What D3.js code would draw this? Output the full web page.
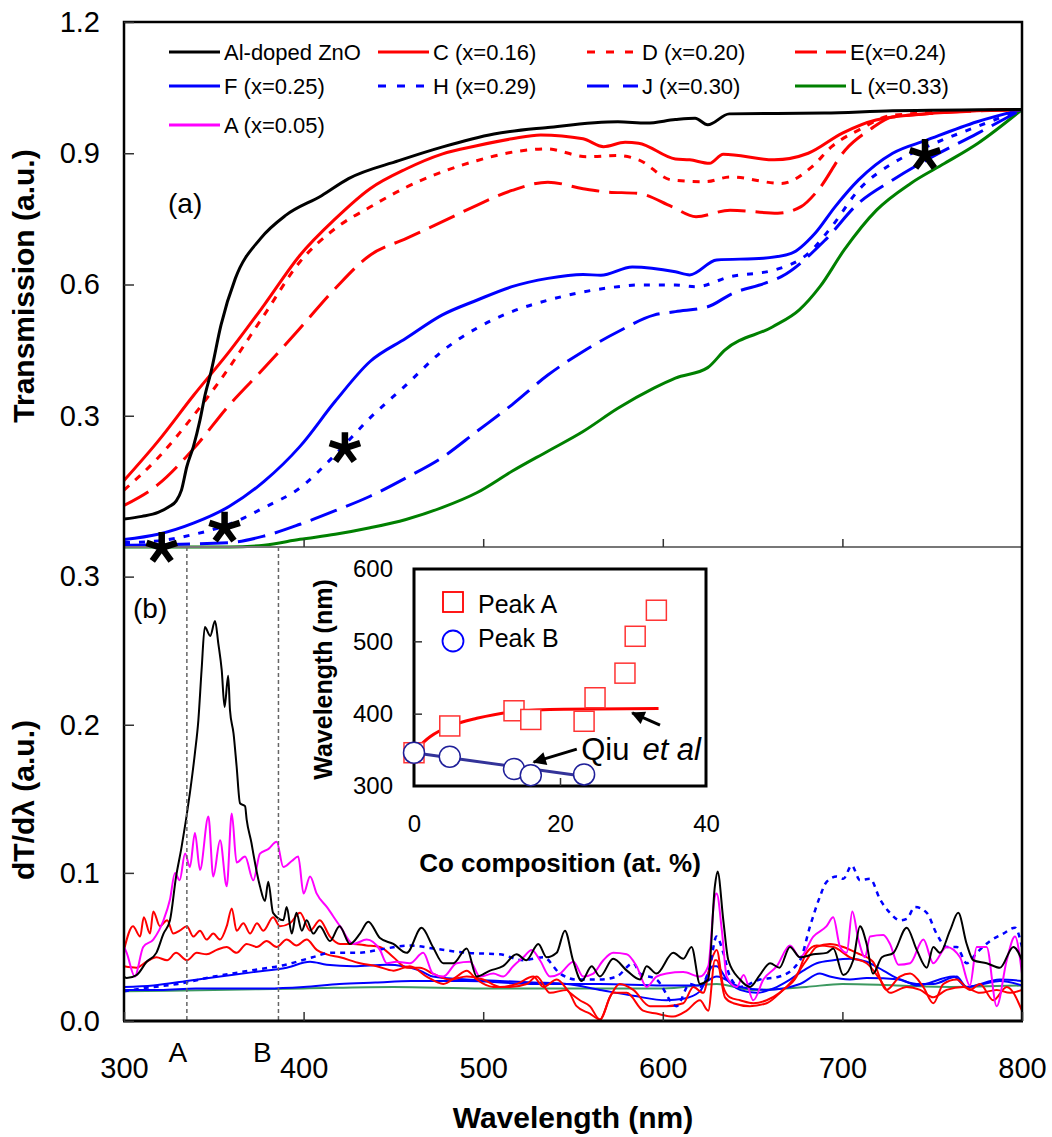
<!DOCTYPE html>
<html>
<head>
<meta charset="utf-8">
<script src="https://d3js.org/d3.v7.min.js"></script>
<style>
  body { margin: 0; background: #fff; }
  text { font-family: "Liberation Sans", Arial, sans-serif; fill: #000; }
  .ttl { font-weight: 700; }
</style>
</head>
<body>
<div id="chart"></div>
<script>
// ---- panel (a): transmission, [wavelength nm, T]
var tAZO = [[300,0.064],[310,0.07],[319,0.079],[325,0.092],[329,0.105],[332,0.13],[335,0.184],[338.6,0.229],[342.3,0.29],[345,0.345],[348.5,0.401],[354,0.507],[362,0.614],[376,0.705],[390,0.758],[410,0.803],[425,0.842],[453,0.883],[477,0.914],[506,0.944],[536,0.959],[575,0.972],[591,0.969],[607,0.977],[618,0.98],[625,0.965],[637,0.99],[690,0.992],[728,0.997],[800,1.0]];
var tC = [[300,0.152],[319,0.242],[339,0.348],[358.7,0.447],[378,0.553],[398,0.667],[417.6,0.75],[437,0.819],[457,0.864],[477,0.898],[496.4,0.917],[516,0.933],[532,0.942],[555.6,0.933],[567,0.915],[579,0.925],[586.5,0.923],[607,0.887],[615,0.885],[626,0.877],[633.7,0.898],[662,0.885],[681,0.9],[700,0.946],[718.7,0.976],[747,0.99],[800,1.0]];
var tD = [[300,0.13],[319,0.204],[339,0.302],[354.4,0.386],[378,0.53],[398,0.652],[417.6,0.728],[437,0.777],[457,0.822],[477,0.857],[496.4,0.883],[520,0.905],[535,0.91],[557.8,0.892],[575,0.895],[586.5,0.885],[605,0.839],[624,0.835],[637.5,0.846],[666,0.831],[683,0.869],[694,0.915],[709,0.953],[728,0.987],[800,1.0]];
var tE = [[300,0.095],[319,0.143],[339,0.226],[358.7,0.325],[378,0.409],[398,0.5],[417.6,0.591],[437,0.667],[457,0.705],[477,0.743],[496.4,0.781],[516,0.815],[536,0.834],[555.6,0.819],[567.6,0.812],[586.5,0.808],[605,0.778],[618.5,0.755],[637.5,0.77],[664,0.763],[677,0.778],[686.5,0.816],[701.5,0.907],[715,0.953],[728,0.983],[800,1.0]];
var tF = [[300,0.017],[319,0.029],[339,0.055],[358.7,0.093],[378,0.15],[398,0.23],[417.6,0.333],[437,0.424],[457,0.477],[477,0.53],[496.4,0.564],[516,0.595],[536,0.614],[555.6,0.623],[565.5,0.621],[583,0.64],[607,0.629],[615,0.622],[630,0.656],[656,0.66],[671.5,0.671],[684.8,0.717],[696,0.778],[709,0.839],[728,0.9],[747,0.93],[775,0.972],[800,1.0]];
var tH = [[300,0.01],[319,0.014],[339,0.029],[358.7,0.052],[378,0.09],[398,0.135],[417.6,0.211],[437,0.295],[457,0.37],[477,0.447],[496.4,0.5],[516,0.538],[536,0.564],[555.6,0.583],[575,0.595],[586.5,0.599],[607,0.599],[618.5,0.595],[637.5,0.618],[662,0.633],[681,0.671],[694,0.732],[709,0.816],[728,0.877],[747,0.915],[775,0.961],[800,1.0]];
var tJ = [[300,0.004],[358.7,0.01],[378,0.025],[398,0.052],[417.6,0.083],[437,0.116],[457,0.158],[477,0.204],[496.4,0.264],[516,0.325],[536,0.393],[555.6,0.447],[575,0.492],[595,0.53],[607,0.538],[625,0.549],[639,0.58],[657,0.603],[666,0.618],[690,0.7],[709,0.786],[728,0.839],[747,0.885],[775,0.945],[800,1.0]];
var tL = [[300,0.0],[358.7,0.0],[378,0.004],[398,0.0175],[417.6,0.029],[437,0.044],[457,0.063],[477,0.09],[496.4,0.124],[516,0.173],[536,0.219],[555.6,0.264],[575,0.317],[595,0.363],[607,0.386],[625,0.41],[634.5,0.45],[661,0.503],[676,0.542],[687.5,0.595],[701,0.679],[719,0.77],[738,0.831],[757,0.877],[775.5,0.923],[800,1.0]];

// ---- panel (b): dT/dlambda, [wavelength nm, value]
var dAZO = [[300,0.03],[301.5,0.029],[307,0.031],[312.6,0.04],[318,0.046],[322,0.059],[325.6,0.068],[329,0.0975],[332,0.117],[336.7,0.154],[339.5,0.181],[341.4,0.203],[343.2,0.237],[345,0.266],[348,0.26],[350.7,0.27],[352.5,0.255],[354.4,0.237],[356,0.212],[358,0.233],[359,0.21],[361,0.194],[362.7,0.172],[364.6,0.147],[367.4,0.145],[368.3,0.136],[371,0.12],[372,0.113],[375.7,0.091],[378.5,0.081],[380.3,0.094],[383,0.073],[388.7,0.068],[390.6,0.077],[393.4,0.059],[396,0.073],[399,0.061],[401.7,0.068],[405.4,0.059],[409,0.064],[414.7,0.054],[420,0.064],[425.8,0.052],[431.4,0.059],[436,0.067],[442.5,0.056],[450,0.052],[457.4,0.046],[465.7,0.063],[472,0.05],[477.8,0.039],[483.4,0.039],[490.8,0.049],[496.4,0.03],[503.8,0.034],[511,0.037],[518.6,0.045],[524,0.041],[530.7,0.052],[535.3,0.043],[540.9,0.046],[545.5,0.061],[550,0.041],[554.8,0.027],[560.4,0.037],[565,0.03],[572.4,0.042],[580,0.034],[587.3,0.028],[591,0.037],[596.5,0.032],[605.8,0.046],[611.4,0.042],[616,0.05],[620.7,0.025],[625.3,0.028],[629,0.091],[630.5,0.101],[633.7,0.068],[636.5,0.041],[643,0.028],[648.5,0.023],[654,0.031],[659.7,0.039],[665,0.036],[670.8,0.05],[676.4,0.043],[683.8,0.045],[691.2,0.046],[694.9,0.049],[700.5,0.031],[706,0.041],[709.8,0.064],[713.5,0.052],[717,0.032],[722,0.043],[728.4,0.046],[735.8,0.063],[741.4,0.048],[747,0.036],[750.6,0.05],[754.3,0.046],[759.9,0.061],[764.5,0.073],[769.2,0.052],[772.9,0.041],[780.3,0.039],[787.7,0.036],[795.2,0.05],[800,0.041]];
var dA = [[300,0.05],[301.5,0.046],[306,0.03],[310.7,0.05],[316.3,0.055],[322,0.068],[325.6,0.082],[328.4,0.1],[331,0.095],[334,0.113],[336.7,0.104],[339.5,0.127],[342.3,0.102],[347,0.138],[349.7,0.0975],[353.5,0.122],[357.2,0.091],[360,0.14],[362.7,0.107],[367.4,0.111],[372,0.095],[375.7,0.113],[380.3,0.116],[385,0.121],[388.7,0.104],[393.4,0.108],[397,0.111],[400,0.086],[403.6,0.0975],[407.3,0.086],[412.9,0.077],[420.3,0.064],[427.7,0.052],[435.1,0.055],[442.5,0.048],[446.3,0.039],[451.8,0.04],[459.2,0.039],[466.6,0.046],[472,0.032],[477.8,0.03],[485.2,0.039],[492.7,0.04],[498.2,0.03],[505.6,0.032],[511.2,0.03],[516.7,0.037],[522.3,0.043],[527,0.048],[531.6,0.041],[537.2,0.03],[542.8,0.032],[550.2,0.04],[555.7,0.03],[561.3,0.032],[566.9,0.041],[572.4,0.046],[579.9,0.045],[585.4,0.037],[591,0.023],[596.5,0.03],[602.1,0.032],[611.4,0.033],[620.7,0.03],[625.3,0.037],[629,0.084],[630,0.086],[632.9,0.061],[635.6,0.03],[641.2,0.023],[645,0.031],[650.4,0.014],[656,0.028],[663.5,0.037],[670.8,0.051],[676.4,0.043],[683.8,0.057],[691.2,0.064],[694.9,0.07],[698.7,0.05],[702.4,0.046],[705.5,0.074],[708.9,0.055],[712.6,0.043],[715.4,0.057],[722.8,0.058],[726.5,0.052],[731.2,0.038],[737.7,0.039],[745.1,0.055],[750.6,0.039],[758,0.05],[765.5,0.043],[771,0.024],[774.8,0.05],[780.3,0.05],[785.9,0.01],[791.5,0.041],[796.1,0.057],[800,0.032]];
var dC = [[300,0.048],[305,0.064],[309,0.057],[311,0.07],[314.5,0.059],[316.3,0.074],[320,0.064],[324,0.068],[327.5,0.059],[331,0.061],[335,0.064],[338.6,0.057],[342.3,0.061],[346,0.055],[349.7,0.059],[353.5,0.055],[357.2,0.064],[360,0.076],[362.7,0.061],[366.5,0.066],[370.2,0.059],[374,0.066],[377.6,0.061],[383,0.07],[386.8,0.064],[392.4,0.066],[398,0.073],[403.6,0.061],[409,0.068],[414.7,0.057],[420.3,0.052],[427.7,0.052],[435,0.051],[442.5,0.05],[450,0.043],[457.4,0.036],[464.8,0.036],[472,0.032],[481.5,0.028],[490.8,0.03],[500,0.028],[509.3,0.023],[518.6,0.025],[527.9,0.03],[533.5,0.023],[541,0.028],[548.3,0.019],[553.8,0.014],[559.4,0.01],[565,0.001],[570.5,0.016],[576,0.025],[583.6,0.021],[592.8,0.01],[602,0.01],[611.4,0.012],[617,0.023],[622.5,0.019],[627,0.041],[630,0.048],[633.7,0.023],[637.4,0.016],[643,0.014],[650.4,0.012],[657.8,0.014],[665,0.019],[672.6,0.028],[680,0.041],[685.7,0.05],[693,0.052],[700.5,0.05],[707.9,0.046],[717,0.04],[724.6,0.021],[732,0.03],[737.7,0.032],[745,0.023],[750.6,0.012],[756.2,0.025],[763.6,0.028],[771,0.021],[776.6,0.025],[784,0.014],[791.5,0.023],[800,0.007]];
var dD = [[300,0.037],[307,0.036],[312.6,0.04],[318,0.043],[324,0.041],[329,0.046],[335,0.041],[340.5,0.046],[346,0.045],[351.6,0.048],[357.2,0.05],[362.7,0.046],[368.3,0.052],[374,0.05],[379.4,0.054],[385,0.05],[390.6,0.055],[396,0.051],[401.7,0.055],[407.3,0.048],[412.9,0.045],[420.3,0.043],[431.4,0.039],[440.7,0.037],[450,0.034],[459.2,0.037],[468.5,0.03],[477.8,0.025],[485.2,0.03],[490.8,0.034],[496.4,0.028],[505.6,0.023],[514.9,0.023],[524.2,0.025],[529.8,0.03],[537.2,0.019],[546.5,0.021],[552,0.01],[559.4,0.005],[565,0.001],[572.4,0.019],[579.9,0.019],[589,0.007],[596.5,0.005],[605.8,0.003],[613.3,0.007],[620.7,0.014],[625.3,0.007],[629,0.041],[630,0.041],[634.6,0.016],[639.3,0.012],[648.5,0.01],[657.8,0.012],[667,0.021],[674.5,0.03],[680,0.046],[685.7,0.051],[694.9,0.05],[704.2,0.043],[713.5,0.039],[721,0.028],[726.5,0.019],[735.8,0.023],[743.3,0.021],[750.6,0.016],[758,0.021],[767.3,0.023],[776.6,0.019],[785.9,0.021],[793.3,0.019],[800,0.021]];
var dF = [[300,0.023],[316.3,0.024],[335,0.027],[353.5,0.03],[372,0.033],[390.6,0.036],[403.6,0.04],[412.9,0.038],[427.7,0.037],[446.3,0.038],[464.8,0.034],[472,0.03],[490.8,0.028],[509.3,0.027],[527.9,0.026],[546.5,0.025],[565,0.021],[583.6,0.017],[602,0.014],[611.4,0.015],[620.7,0.02],[628,0.037],[630,0.037],[635.6,0.028],[643,0.021],[652.3,0.019],[661.6,0.022],[670.8,0.028],[678.2,0.034],[685.7,0.039],[694.9,0.041],[704.2,0.042],[713.5,0.04],[722.8,0.034],[732,0.028],[741.4,0.025],[750.6,0.025],[763.6,0.03],[769.2,0.023],[778.5,0.025],[787.7,0.027],[800,0.024]];
var dH = [[300,0.02],[310,0.022],[330,0.025],[350,0.03],[370,0.034],[390,0.038],[405,0.043],[415,0.046],[430,0.046],[446,0.049],[459.2,0.051],[472,0.049],[490.8,0.046],[509.3,0.045],[522.3,0.041],[533.5,0.043],[542.8,0.032],[552,0.028],[565,0.028],[574.3,0.03],[583.6,0.039],[587.3,0.032],[596.5,0.028],[607.7,0.01],[615,0.025],[620.7,0.023],[626.2,0.037],[629.9,0.057],[633.7,0.046],[637.4,0.03],[643,0.023],[654,0.028],[665,0.03],[676.4,0.041],[682,0.064],[687.5,0.084],[691.2,0.094],[696.8,0.0975],[700.5,0.096],[705.2,0.105],[709.8,0.095],[715.4,0.096],[721,0.082],[726.5,0.073],[732,0.068],[735.8,0.069],[740.5,0.077],[747,0.073],[752.4,0.059],[758,0.05],[763.6,0.05],[769.2,0.039],[774.8,0.046],[782.2,0.054],[789.6,0.059],[796.1,0.063],[800,0.05]];
var dJ = [[300,0.021],[320,0.021],[340,0.022],[360,0.022],[380,0.022],[400,0.023],[420,0.025],[440,0.026],[460,0.027],[490,0.027],[530,0.025],[565,0.025],[600,0.024],[620,0.024],[630,0.03],[643,0.023],[657.8,0.021],[676.4,0.025],[687.5,0.032],[693,0.03],[704.2,0.028],[713.5,0.029],[732,0.028],[741.4,0.024],[761.8,0.03],[769.2,0.023],[787.7,0.028],[800,0.027]];
var dL = [[300,0.02],[350,0.021],[400,0.022],[450,0.023],[500,0.022],[550,0.022],[600,0.022],[630,0.025],[650,0.021],[680,0.023],[700,0.025],[730,0.024],[760,0.023],[800,0.024]];

// ---- legend
var legendNames = ["Al-doped ZnO","C (x=0.16)","D (x=0.20)","E(x=0.24)","F (x=0.25)","H (x=0.29)","J (x=0.30)","L (x=0.33)","A (x=0.05)"];
var legendColors = ["#000000","#ff0000","#ff0000","#ff0000","#0000ff","#0000ff","#0000ff","#008000","#ff00ff"];
var legendDash = [null,null,"8,11","22,9",null,"8,11","22,14",null,null];

// ---- annotations
var starPts = [[321,-0.002],[356,0.044],[423,0.226],[746,0.896]];
var peakLines = [335, 386];
var peakNames = ["A", "B"];
var peakLabelX = [330, 377];

// ---- inset: peak wavelength vs Co composition
var peakAx = [0, 4.9, 13.7, 16.0, 23.3, 24.8, 28.9, 30.3, 33.2];
var peakAy = [346, 383, 404, 392, 389.5, 422, 456, 507, 543];
var peakBx = [0, 4.9, 13.7, 16.0, 23.3];
var peakBy = [346, 340.5, 323.5, 315, 316];
var qiuA = [[0,348],[2.2,368],[5,383],[8.6,393.6],[13.7,402.7],[20.5,406],[33.5,407]];
var qiuB = [[0,346],[23.5,313]];
var arrows = [[[33.7,384],[29.9,401]], [[22.3,351],[16.4,333]]];
var qiuPos = [22.9, 336];

var W = 1052, H = 1137;
var svg = d3.select('#chart').append('svg').attr('width', W).attr('height', H);
svg.append('rect').attr('width', W).attr('height', H).attr('fill', '#fff');

var x = d3.scaleLinear().domain([300, 800]).range([124, 1022]);
var yTop = d3.scaleLinear().domain([0, 1.2]).range([547, 22]);
var yBot = d3.scaleLinear().domain([0, 0.32]).range([1021, 547]);
var xIn = d3.scaleLinear().domain([0, 40]).range([414, 706]);
var yIn = d3.scaleLinear().domain([300, 600]).range([786, 569]);

var defs = svg.append('defs');
defs.append('clipPath').attr('id', 'clipTop').append('rect')
  .attr('x', x(300)).attr('y', yTop(1.2)).attr('width', x(800) - x(300)).attr('height', yTop(0) - yTop(1.2) + 2);
defs.append('clipPath').attr('id', 'clipBot').append('rect')
  .attr('x', x(300)).attr('y', yBot(0.32)).attr('width', x(800) - x(300)).attr('height', yBot(0) - yBot(0.32));
defs.append('marker').attr('id', 'arrow').attr('viewBox', '0 0 10 10')
  .attr('refX', 9).attr('refY', 5).attr('markerWidth', 5).attr('markerHeight', 4.5)
  .attr('orient', 'auto').append('path').attr('d', 'M0,0L10,5L0,10z').attr('fill', '#000');

function styleAxis(g, size) {
  g.select('.domain').remove();
  g.selectAll('.tick line').attr('stroke', '#333').attr('stroke-width', 1.5);
  g.selectAll('.tick text').style('font-size', size + 'px').style('font-family', '"Liberation Sans", Arial, sans-serif').attr('fill', '#000');
}

// ---- panel (a) curves
var lineTop = d3.line().curve(d3.curveMonotoneX)
  .x(function(d){ return x(d[0]); }).y(function(d){ return yTop(d[1]); });
var topSeries = [
  {data: tL, color: '#008000', dash: null},
  {data: tJ, color: '#0000ff', dash: '28,10'},
  {data: tH, color: '#0000ff', dash: '6,9'},
  {data: tF, color: '#0000ff', dash: null},
  {data: tE, color: '#ff0000', dash: '28,10'},
  {data: tD, color: '#ff0000', dash: '7,8'},
  {data: tC, color: '#ff0000', dash: null},
  {data: tAZO, color: '#000000', dash: null}
];
var gTop = svg.append('g').attr('clip-path', 'url(#clipTop)');
topSeries.forEach(function(s){
  gTop.append('path').attr('d', lineTop(s.data)).attr('fill', 'none')
    .attr('stroke', s.color).attr('stroke-width', 3).attr('stroke-dasharray', s.dash);
});

// ---- panel (b) curves
var lineBot = d3.line().curve(d3.curveMonotoneX)
  .x(function(d){ return x(d[0]); }).y(function(d){ return yBot(d[1]); });
var botSeries = [
  {data: dL, color: '#3d9960', dash: null},
  {data: dJ, color: '#0000ff', dash: null},
  {data: dF, color: '#0000ff', dash: null},
  {data: dD, color: '#ff0000', dash: null},
  {data: dC, color: '#ff0000', dash: null},
  {data: dH, color: '#0000ff', dash: '5,5'},
  {data: dA, color: '#ff00ff', dash: null},
  {data: dAZO, color: '#000000', dash: null}
];
var gBot = svg.append('g').attr('clip-path', 'url(#clipBot)');
botSeries.forEach(function(s){
  gBot.append('path').attr('d', lineBot(s.data)).attr('fill', 'none')
    .attr('stroke', s.color).attr('stroke-width', s.dash ? 2.5 : 2).attr('stroke-dasharray', s.dash)
    .attr('stroke-linejoin', 'round');
});

// peak A / B markers
peakLines.forEach(function(v, i){
  svg.append('line').attr('x1', x(v)).attr('x2', x(v)).attr('y1', yBot(0.32)).attr('y2', yBot(0))
    .attr('stroke', '#666').attr('stroke-width', 1.5).attr('stroke-dasharray', '4,3');
  svg.append('text').attr('x', x(peakLabelX[i])).attr('y', 1062).attr('text-anchor', 'middle')
    .style('font-size', '28px').text(peakNames[i]);
});

// ---- frame
svg.append('line').attr('x1', x(300)).attr('x2', x(800)).attr('y1', yTop(0)).attr('y2', yTop(0)).attr('stroke', '#777').attr('stroke-width', 2);
svg.append('path').attr('d', 'M' + x(300) + ',' + yBot(0) + 'V' + yTop(1.2) + 'H' + x(800) + 'V' + yBot(0))
  .attr('fill', 'none').attr('stroke', '#000').attr('stroke-width', 2.5);
svg.append('line').attr('x1', x(300) - 1).attr('x2', x(800) + 1).attr('y1', yBot(0)).attr('y2', yBot(0)).attr('stroke', '#000').attr('stroke-width', 3);

// ---- axes
var ayTop = svg.append('g').attr('transform', 'translate(' + x(300) + ',0)')
  .call(d3.axisLeft(yTop).tickValues([0.3, 0.6, 0.9, 1.2]).tickFormat(d3.format('.1f')).tickSizeInner(-10).tickSizeOuter(0).tickPadding(24));
styleAxis(ayTop, 29);
var ayBot = svg.append('g').attr('transform', 'translate(' + x(300) + ',0)')
  .call(d3.axisLeft(yBot).tickValues([0, 0.1, 0.2, 0.3]).tickFormat(d3.format('.1f')).tickSizeInner(-10).tickSizeOuter(0).tickPadding(24));
styleAxis(ayBot, 29);
var axBot = svg.append('g').attr('transform', 'translate(0,' + yBot(0) + ')')
  .call(d3.axisBottom(x).tickValues([300, 400, 500, 600, 700, 800]).tickSizeInner(-9).tickSizeOuter(0).tickPadding(36));
styleAxis(axBot, 29);
var axTop = svg.append('g').attr('transform', 'translate(0,' + yTop(0) + ')')
  .call(d3.axisBottom(x).tickValues([400, 500, 600, 700]).tickFormat('').tickSizeInner(-8).tickSizeOuter(0));
styleAxis(axTop, 29);

svg.append('text').attr('class', 'ttl').attr('transform', 'translate(34,286) rotate(-90)')
  .attr('text-anchor', 'middle').style('font-size', '30px').text('Transmission (a.u.)');
svg.append('text').attr('class', 'ttl').attr('transform', 'translate(34,800) rotate(-90)')
  .attr('text-anchor', 'middle').style('font-size', '30px').text('dT/dλ (a.u.)');
svg.append('text').attr('class', 'ttl').attr('x', (x(300) + x(800)) / 2).attr('y', 1128)
  .attr('text-anchor', 'middle').style('font-size', '30px').text('Wavelength (nm)');

svg.append('text').attr('x', 168).attr('y', 213).style('font-size', '28px').text('(a)');
svg.append('text').attr('x', 133).attr('y', 618).style('font-size', '28px').text('(b)');

// ---- asterisks
var armAngles = [-90, -18, 54, 126, 198];
starPts.forEach(function(p){
  var cx = x(p[0]), cy = yTop(p[1]);
  var d = armAngles.map(function(a){
    var r = a * Math.PI / 180;
    return 'M' + cx + ',' + cy + 'L' + (cx + 16 * Math.cos(r)) + ',' + (cy + 16 * Math.sin(r));
  }).join('');
  svg.append('path').attr('d', d).attr('stroke', '#000').attr('stroke-width', 6.5).attr('fill', 'none');
});

// ---- main legend
var colX = [169, 378, 587, 795], rowY = [52, 86, 125];
legendNames.forEach(function(n, i){
  var lx = colX[i % 4], ly = rowY[Math.floor(i / 4)];
  svg.append('line').attr('x1', lx).attr('x2', lx + 51).attr('y1', ly).attr('y2', ly)
    .attr('stroke', legendColors[i]).attr('stroke-width', 3).attr('stroke-dasharray', legendDash[i]);
  svg.append('text').attr('x', lx + 55).attr('y', ly).attr('dy', '0.36em').style('font-size', '22px').text(n);
});

// ---- inset
svg.append('rect').attr('x', xIn(0)).attr('y', yIn(600)).attr('width', xIn(40) - xIn(0)).attr('height', yIn(300) - yIn(600))
  .attr('fill', '#fff').attr('stroke', '#000').attr('stroke-width', 3);
var ayIn = svg.append('g').attr('transform', 'translate(' + xIn(0) + ',0)')
  .call(d3.axisLeft(yIn).tickValues([300, 400, 500, 600]).tickSizeInner(-8).tickSizeOuter(0).tickPadding(21));
styleAxis(ayIn, 24);
var axIn = svg.append('g').attr('transform', 'translate(0,' + yIn(300) + ')')
  .call(d3.axisBottom(xIn).tickValues([0, 20, 40]).tickSizeInner(-8).tickSizeOuter(0).tickPadding(29));
styleAxis(axIn, 24);
axIn.selectAll('.tick line').filter(function(d){ return d !== 20; }).remove();
ayIn.selectAll('.tick line').filter(function(d){ return d === 300 || d === 600; }).remove();

svg.append('text').attr('class', 'ttl').attr('transform', 'translate(332,' + ((yIn(300) + yIn(600)) / 2 + 2) + ') rotate(-90)')
  .attr('text-anchor', 'middle').style('font-size', '25px').text('Wavelength (nm)');
svg.append('text').attr('class', 'ttl').attr('x', (xIn(0) + xIn(40)) / 2).attr('y', 872)
  .attr('text-anchor', 'middle').style('font-size', '26px').text('Co composition (at. %)');

var lineIn = d3.line().x(function(d){ return xIn(d[0]); }).y(function(d){ return yIn(d[1]); });
svg.append('path').attr('d', lineIn.curve(d3.curveMonotoneX)(qiuA)).attr('fill', 'none').attr('stroke', '#ff0000').attr('stroke-width', 3);
svg.append('path').attr('d', lineIn.curve(d3.curveLinear)(qiuB)).attr('fill', 'none').attr('stroke', '#333399').attr('stroke-width', 3);

peakAx.forEach(function(v, i){
  svg.append('rect').attr('x', xIn(v) - 10).attr('y', yIn(peakAy[i]) - 10).attr('width', 20).attr('height', 20)
    .attr('fill', '#fff').attr('stroke', '#ff3333').attr('stroke-width', 1.5);
});
peakBx.forEach(function(v, i){
  svg.append('circle').attr('cx', xIn(v)).attr('cy', yIn(peakBy[i])).attr('r', 10.5)
    .attr('fill', '#fff').attr('stroke', '#1f1f99').attr('stroke-width', 1.5);
});

arrows.forEach(function(a){
  svg.append('line').attr('x1', xIn(a[0][0])).attr('y1', yIn(a[0][1])).attr('x2', xIn(a[1][0])).attr('y2', yIn(a[1][1]))
    .attr('stroke', '#000').attr('stroke-width', 3).attr('marker-end', 'url(#arrow)');
});
var qiu = svg.append('text').attr('x', xIn(qiuPos[0])).attr('y', yIn(qiuPos[1])).style('font-size', '31px');
qiu.append('tspan').text('Qiu');
qiu.append('tspan').attr('dx', 13).style('font-style', 'italic').text('et al');

// inset legend
svg.append('rect').attr('x', 443).attr('y', 592).attr('width', 20).attr('height', 20)
  .attr('fill', '#fff').attr('stroke', '#ff0000').attr('stroke-width', 1.8);
svg.append('text').attr('x', 478).attr('y', 613).style('font-size', '25px').text('Peak A');
svg.append('circle').attr('cx', 453).attr('cy', 641).attr('r', 10.5)
  .attr('fill', '#fff').attr('stroke', '#0000ff').attr('stroke-width', 1.8);
svg.append('text').attr('x', 478).attr('y', 647).style('font-size', '25px').text('Peak B');
</script>
</body>
</html>
